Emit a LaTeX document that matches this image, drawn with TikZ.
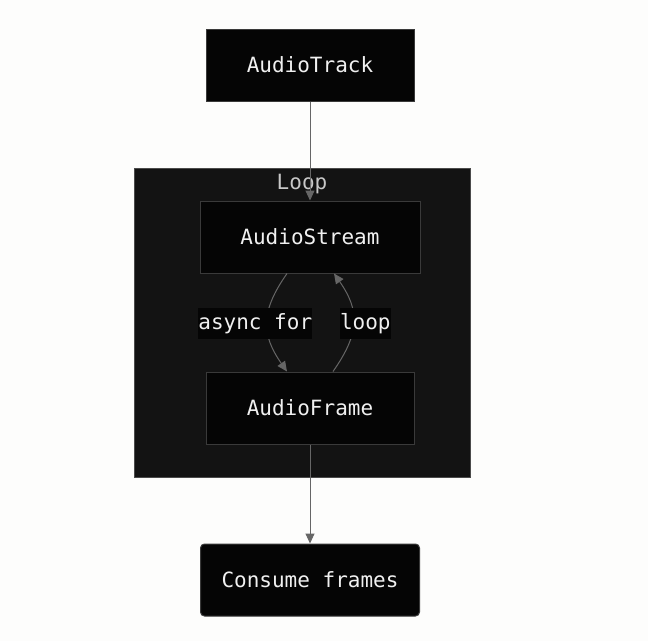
\documentclass[tikz,border=0pt]{standalone}
\usepackage{fontspec}
\setmonofont{DejaVu Sans Mono}
\usepackage{tikz}
\usetikzlibrary{arrows.meta,positioning}
\definecolor{dfbg}{RGB}{253,253,252}
\definecolor{dfbox}{RGB}{5,5,5}
\definecolor{dfboxline}{RGB}{58,58,58}
\definecolor{dfcluster}{RGB}{19,19,19}
\definecolor{dfclusterline}{RGB}{75,75,75}
\definecolor{dfgray}{RGB}{102,102,102}
\definecolor{dftext}{RGB}{240,240,240}
\definecolor{dflooptext}{RGB}{200,200,200}
\tikzstyle{arrow} = [line width=1pt,->,>={Triangle[length=10pt,width=9pt]},color=dfgray]
\tikzstyle{stagebox} = [rectangle, minimum width=208pt, minimum height=72pt, text centered, draw=dfboxline, fill=dfbox, line width=1pt, text=dftext, font=\ttfamily\fontsize{21}{25}\selectfont]
\tikzstyle{edgelabel} = [fill=dfbox, inner xsep=0pt, inner ysep=5pt, text=dftext, font=\ttfamily\fontsize{21}{25}\selectfont]

\begin{document}
\begin{tikzpicture}[x=1pt, y=-1pt]
    \useasboundingbox[fill=dfbg] (0,0) rectangle (648,641);

    % Loop cluster
    \draw[line width=1pt, draw=dfclusterline, fill=dfcluster] (134,168) rectangle (470,477);
    \node[text=dflooptext, font=\ttfamily\fontsize{21}{25}\selectfont] (looplabel) at (302,184) {Loop};

    % Stages
    \node[stagebox] (track) at (310,65) {AudioTrack};
    \node[stagebox, minimum width=220pt] (stream) at (310,237) {AudioStream};
    \node[stagebox] (frame) at (310,408) {AudioFrame};
    \node[stagebox, minimum width=219pt, rounded corners=4pt] (consume) at (310,580) {Consume frames};

    % Arrows
    \draw[arrow] (track) -- (stream);
    \draw[arrow] ([xshift=-23pt]stream.south) to[out=-125, in=125, looseness=1.2]
        node[edgelabel, xshift=-12pt, yshift=-1pt] (asyncfor) {async for} ([xshift=-23pt]frame.north);
    \draw[arrow] ([xshift=23pt]frame.north) to[out=55, in=-55, looseness=1.2]
        node[edgelabel, xshift=12pt, yshift=-1pt] (loop) {loop} ([xshift=24pt]stream.south);
    \draw[arrow] (frame) -- (consume);
\end{tikzpicture}
\end{document}
